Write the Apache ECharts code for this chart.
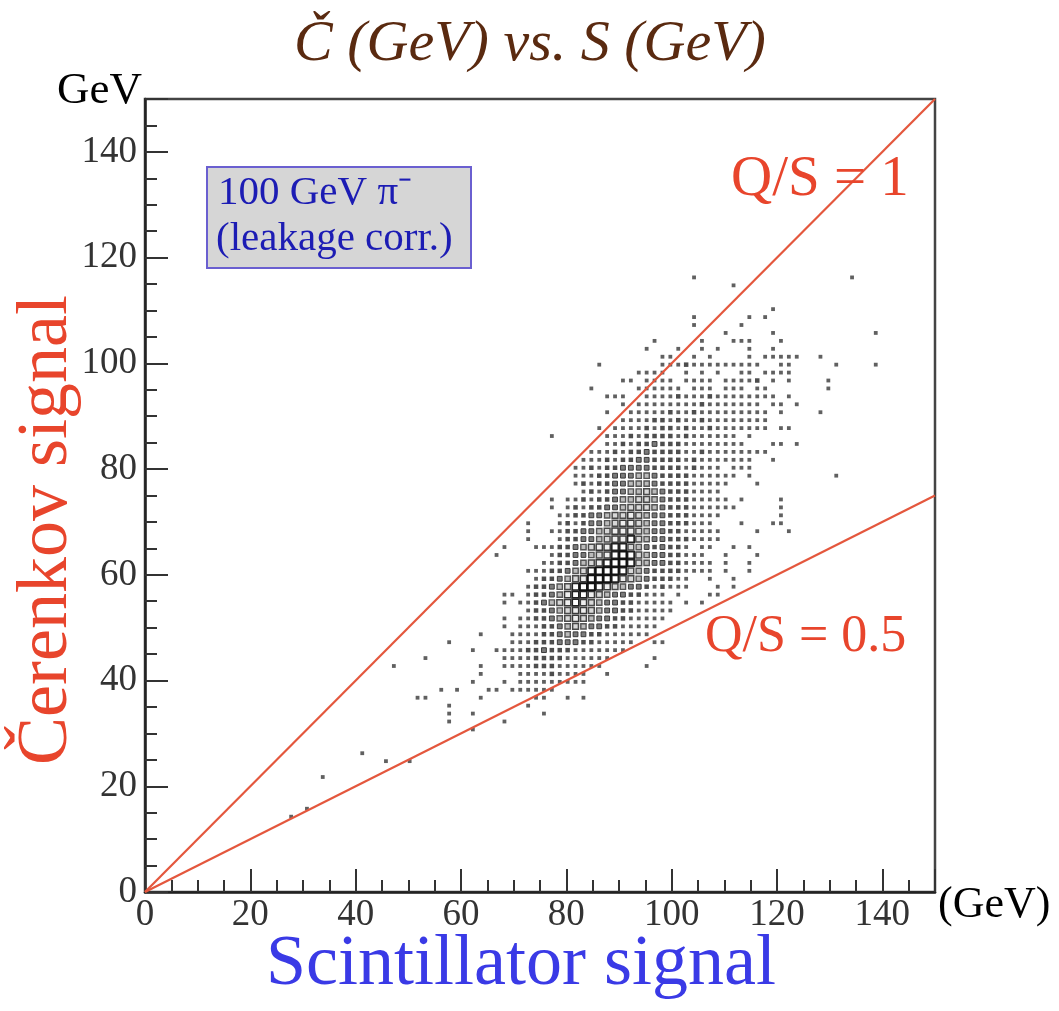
<!DOCTYPE html>
<html>
<head>
<meta charset="utf-8">
<script src="https://cdn.jsdelivr.net/npm/echarts@6/dist/echarts.min.js"></script>
<style>
  html, body { margin: 0; padding: 0; background: #fff; }
  #chart { width: 1059px; height: 1011px; }
</style>
</head>
<body>
<div id="chart"></div>
<script>
// bins are 1.5 GeV wide on both axes, cell = [column bin, row bin]
const binWidth = 1.5;
const axisMax = 150;
const tickStep = 20;
const ratioLines = [1, 0.5];

// [row bin, first column bin, box level per column ('.' = empty)]
const denseRows = [
  [67, 65, '11..1.1....1.11111..1'],
  [66, 65, '1112111111111..11'],
  [65, 62, '1111..1.1.1..11.1111'],
  [64, 60, '11.1111.1111.11112.1.1'],
  [63, 62, '111111.111.111.11'],
  [62, 58, '111..11112111211111111.1'],
  [61, 60, '1.1111111121111111.11.1'],
  [60, 58, '1..111112112111111111.1'],
  [59, 60, '1111221211211111111'],
  [58, 57, '1.11112122121121111111.11'],
  [57, 58, '11121222212111111.1'],
  [56, 58, '112122322211111111...11.1'],
  [55, 56, '11121223222211211111111'],
  [54, 55, '1112122332222121111111..1'],
  [53, 54, '1121223333222212111.111'],
  [52, 54, '111223334432222111111.1'],
  [51, 54, '12122334443222211111...1'],
  [50, 55, '121233445432221111'],
  [49, 51, '1.112122344554322211111.1....1'],
  [48, 51, '1.1212233455543222111111.....1'],
  [47, 52, '112233455654332221111.......1'],
  [46, 48, '1...12123345665433222111...1...11'],
  [45, 48, '1..1122334566654332211111....1...1'],
  [44, 48, '1...122334566754332221111'],
  [43, 45, '1...11122345667754323221.11..1.1'],
  [42, 44, '1......12233456787543322111..1...1'],
  [41, 50, '1122345678875433221111.1..1'],
  [40, 48, '111223457888754322221111.1..1'],
  [39, 49, '12234568887654322211..1..1'],
  [38, 48, '122345788765433212111...1.1'],
  [37, 45, '11.122346776543322111.1...11'],
  [36, 45, '1.11234567654332211111.1.1'],
  [35, 48, '1223456654332211111'],
  [34, 45, '1.1122345654332211111'],
  [33, 45, '1.111223454332211111'],
  [32, 42, '1...111122343322111111'],
  [31, 46, '1112223332211111..11'],
  [30, 41, '1..11112232221111111'],
  [29, 45, '11112222111111.....1'],
  [28, 42, '1..1111222111111.....1'],
  [27, 42, '1....111121111..1'],
  [26, 41, '1...1.111111111'],
  [25, 37, '1.1...11.111111']
];

// isolated single-count cells [column bin, row bin]
const sparseCells = [
  [69, 77], [89, 77], [74, 76], [79, 73], [69, 72], [76, 72], [78, 72],
  [69, 71], [75, 71], [73, 70], [79, 70], [92, 70],
  [64, 69], [70, 69], [74, 69], [75, 69], [76, 69], [80, 69],
  [63, 68], [67, 68], [70, 68], [72, 68], [76, 68], [79, 68],
  [57, 66], [87, 66], [92, 66], [86, 64], [56, 63], [86, 63], [85, 60],
  [51, 57], [87, 52], [38, 31], [35, 29], [31, 28],
  [34, 24], [35, 24], [42, 24], [49, 24], [50, 24], [53, 24], [55, 24],
  [38, 23], [48, 23], [38, 22], [41, 22], [50, 22], [38, 21], [45, 21],
  [41, 20], [27, 17], [30, 16], [33, 16], [22, 14], [20, 10], [18, 9]
];

// box look per level
const levelStyles = {
  1: { size: 3.8, fill: '#606060', border: '#606060', width: 0 },
  2: { size: 4.5, fill: '#4d4d4d', border: '#4d4d4d', width: 0 },
  3: { size: 4.8, fill: '#7a7a7a', border: '#3a3a3a', width: 1 },
  4: { size: 5.3, fill: '#bbb', border: '#555', width: 1.4 },
  5: { size: 5.8, fill: '#d8d8d8', border: '#4a4a4a', width: 1.5 },
  6: { size: 6.2, fill: '#eee', border: '#3a3a3a', width: 1.5 },
  7: { size: 6.6, fill: '#fff', border: '#222', width: 1.7 },
  8: { size: 7, fill: '#fff', border: '#111', width: 1.9 }
};

const cells = [];
denseRows.forEach(([j, i0, levels]) => {
  levels.split('').forEach((c, k) => {
    if (c !== '.') cells.push([i0 + k, j, Number(c)]);
  });
});
sparseCells.forEach(([i, j]) => cells.push([i, j, 1]));

const boxSeries = Object.keys(levelStyles).map(lv => {
  const st = levelStyles[lv];
  return {
    type: 'scatter',
    symbol: 'rect',
    symbolSize: st.size,
    silent: true,
    z: 2,
    itemStyle: { color: st.fill, borderColor: st.border, borderWidth: st.width, opacity: 1 },
    data: cells.filter(c => c[2] === Number(lv))
      .map(c => [(c[0] + 0.5) * binWidth, (c[1] + 0.5) * binWidth])
  };
});

const lineSeries = ratioLines.map(r => ({
  type: 'line',
  symbol: 'none',
  silent: true,
  z: 5,
  lineStyle: { color: '#e4573d', width: 2.2 },
  data: [[0, 0], [axisMax, axisMax * r]]
}));

const serif = '"Liberation Serif", "Times New Roman", serif';
const red = '#e8452c';

const axisCommon = {
  type: 'value',
  min: 0,
  max: axisMax,
  interval: tickStep,
  axisLine: { show: true, lineStyle: { color: '#222', width: 2.5 } },
  axisTick: { show: true, inside: true, length: 23, lineStyle: { color: '#333', width: 2 } },
  minorTick: { show: true, splitNumber: 4, length: 12, lineStyle: { color: '#333', width: 2 } },
  splitLine: { show: false },
  axisLabel: { color: '#333', fontFamily: serif, fontSize: 37, showMaxLabel: false }
};

const chart = echarts.init(document.getElementById('chart'));
chart.setOption({
  animation: false,
  backgroundColor: '#fff',
  grid: { left: 145, top: 99, width: 790, height: 793, show: true, borderColor: '#444', borderWidth: 2.5 },
  xAxis: Object.assign({}, axisCommon, {
    axisLabel: Object.assign({}, axisCommon.axisLabel, { margin: 5 })
  }),
  yAxis: Object.assign({}, axisCommon, {
    axisLabel: Object.assign({}, axisCommon.axisLabel, { margin: 8 })
  }),
  graphic: [
    { type: 'text', x: 530, y: 45, style: { text: 'Č (GeV) vs. S (GeV)', font: 'italic 58px ' + serif, fill: '#5a2a10', align: 'center', verticalAlign: 'middle' } },
    { type: 'text', x: 57, y: 91, style: { text: 'GeV', font: '45px ' + serif, fill: '#000', align: 'left', verticalAlign: 'middle' } },
    { type: 'text', x: 938, y: 905, style: { text: '(GeV)', font: '44px ' + serif, fill: '#000', align: 'left', verticalAlign: 'middle' } },
    { type: 'text', x: 521, y: 965, style: { text: 'Scintillator signal', font: '72px ' + serif, fill: '#3a3ae6', align: 'center', verticalAlign: 'middle' } },
    { type: 'text', x: 47, y: 530, rotation: Math.PI / 2, style: { text: 'Čerenkov signal', font: '72px ' + serif, fill: red, align: 'center', verticalAlign: 'middle' } },
    { type: 'text', x: 731, y: 180, z: 10, style: { text: 'Q/S = 1', font: '57px ' + serif, fill: red, align: 'left', verticalAlign: 'middle' } },
    { type: 'text', x: 705, y: 637, z: 10, style: { text: 'Q/S = 0.5', font: '52px ' + serif, fill: red, align: 'left', verticalAlign: 'middle' } },
    { type: 'rect', shape: { x: 207, y: 167, width: 264, height: 101 }, z: 10, style: { fill: '#d6d6d6', stroke: '#6a5fd0', lineWidth: 2 } },
    { type: 'text', x: 218, y: 193, z: 11, style: { text: '100 GeV π⁻', font: '41px ' + serif, fill: '#1c1cb4', align: 'left', verticalAlign: 'middle' } },
    { type: 'text', x: 216, y: 239, z: 11, style: { text: '(leakage corr.)', font: '41px ' + serif, fill: '#1c1cb4', align: 'left', verticalAlign: 'middle' } }
  ],
  series: boxSeries.concat(lineSeries)
});
window.addEventListener('resize', () => chart.resize());
</script>
</body>
</html>
